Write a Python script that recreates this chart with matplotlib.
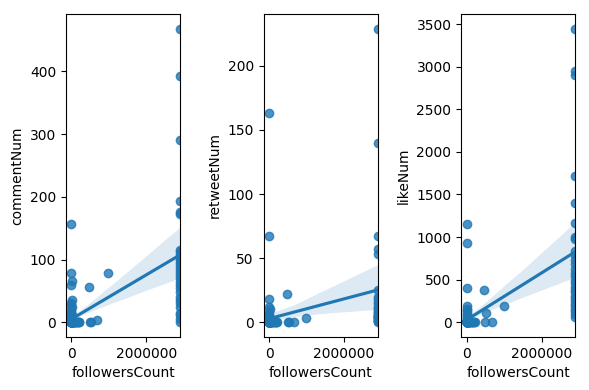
import matplotlib
matplotlib.use("Agg")
import matplotlib.pyplot as plt
import pandas as pd
import seaborn as sns

# small accounts (x close to 0)
small_followers = [
    1520, 860, 3400, 210, 12800, 560, 95, 7300, 2400, 410,
    18500, 1300, 640, 5200, 330, 24000, 150, 980, 2700, 45000,
    88000, 130000, 175000, 215000, 60000, 110000, 150000, 195000, 30000, 70000,
    1100, 250, 4300, 780, 9100, 160, 2050, 15400, 520, 3700,
    6800, 420, 1900, 11200, 270, 880, 5600, 140, 21000, 3100,
    740, 1350, 8200, 460, 2600, 190, 13600, 690, 4800, 1040,
    310, 7600, 2200, 580, 17300, 120, 3900, 950, 6100, 230,
    1650, 10400, 380, 2900, 820, 27000, 170, 5000, 1200, 660,
    9800, 290, 3300, 1450, 480, 14700, 210, 6400, 720, 2350,
    100, 4100, 1780, 540, 19900, 360, 8700, 1010, 2800, 450,
]
small_comments = [
    156, 78, 66, 60, 35, 30, 27, 24, 20, 16,
    12, 10, 8, 6, 5, 4, 3, 2, 1, 0,
    0, 0, 0, 0, 0, 0, 0, 0, 0, 0,
    0, 0, 0, 0, 0, 0, 0, 0, 0, 0,
    0, 0, 0, 0, 0, 0, 0, 0, 0, 0,
    0, 0, 0, 0, 0, 0, 0, 0, 0, 0,
    0, 0, 0, 0, 0, 0, 0, 0, 0, 0,
    0, 0, 0, 0, 0, 0, 0, 0, 0, 0,
    0, 0, 0, 0, 0, 0, 0, 0, 0, 0,
    0, 0, 0, 0, 0, 0, 0, 0, 0, 0,
]
small_retweets = [
    163, 67, 18, 12, 10, 8, 6, 5, 4, 3,
    2, 1, 0, 0, 0, 0, 0, 0, 0, 0,
    0, 0, 0, 0, 0, 0, 0, 0, 0, 0,
    0, 0, 0, 0, 0, 0, 0, 0, 0, 0,
    0, 0, 0, 0, 0, 0, 0, 0, 0, 0,
    0, 0, 0, 0, 0, 0, 0, 0, 0, 0,
    0, 0, 0, 0, 0, 0, 0, 0, 0, 0,
    0, 0, 0, 0, 0, 0, 0, 0, 0, 0,
    0, 0, 0, 0, 0, 0, 0, 0, 0, 0,
    0, 0, 0, 0, 0, 0, 0, 0, 0, 0,
]
small_likes = [
    1157, 934, 402, 187, 160, 140, 120, 100, 80, 60,
    50, 40, 30, 20, 15, 10, 5, 0, 0, 0,
    0, 0, 0, 0, 0, 0, 0, 0, 0, 0,
    0, 0, 0, 0, 0, 0, 0, 0, 0, 0,
    0, 0, 0, 0, 0, 0, 0, 0, 0, 0,
    0, 0, 0, 0, 0, 0, 0, 0, 0, 0,
    0, 0, 0, 0, 0, 0, 0, 0, 0, 0,
    0, 0, 0, 0, 0, 0, 0, 0, 0, 0,
    0, 0, 0, 0, 0, 0, 0, 0, 0, 0,
    0, 0, 0, 0, 0, 0, 0, 0, 0, 0,
]

# mid-size accounts
mid_followers = [470000, 500000, 520000, 670000, 985000]
mid_comments = [57, 1, 0, 4, 78]
mid_retweets = [22, 0, 0, 0, 3]
mid_likes = [375, 0, 109, 0, 187]

# one big account, 29 posts
big_followers = [
    2900000, 2900000, 2900000, 2900000, 2900000, 2900000, 2900000, 2900000,
    2900000, 2900000, 2900000, 2900000, 2900000, 2900000, 2900000, 2900000,
    2900000, 2900000, 2900000, 2900000, 2900000, 2900000, 2900000, 2900000,
    2900000, 2900000, 2900000, 2900000, 2900000,
]
big_comments = [468, 393, 290, 194, 176, 173, 116, 112, 108, 104, 100, 95, 90, 85,
                80, 75, 70, 65, 60, 55, 48, 40, 35, 30, 25, 15, 12, 5, 0]
big_retweets = [229, 140, 67, 57, 53, 25, 20, 18, 16, 14, 12, 11, 10, 9,
                8, 7, 6, 6, 5, 5, 4, 4, 3, 3, 2, 2, 1, 1, 0]
big_likes = [3446, 2946, 2904, 1723, 1403, 1169, 1000, 977, 840, 790, 730, 680, 620, 580,
             540, 500, 460, 420, 380, 350, 310, 280, 250, 220, 190, 160, 130, 100, 60]

df = pd.DataFrame({
    "followersCount": small_followers + mid_followers + big_followers,
    "commentNum": small_comments + mid_comments + big_comments,
    "retweetNum": small_retweets + mid_retweets + big_retweets,
    "likeNum": small_likes + mid_likes + big_likes,
})

fig, axes = plt.subplots(1, 3, figsize=(5.89, 3.9))
xmax = df["followersCount"].max()
for ax, col in zip(axes, ["commentNum", "retweetNum", "likeNum"]):
    sns.regplot(x="followersCount", y=col, data=df, ax=ax, seed=3)
    ax.set_xlim(-0.05 * xmax, xmax)  # right edge sits on the largest account
    ax.ticklabel_format(axis="x", style="plain")

fig.subplots_adjust(left=0.112, right=0.977, top=0.964, bottom=0.136, wspace=0.73)
fig.savefig("out.png", dpi=100)
